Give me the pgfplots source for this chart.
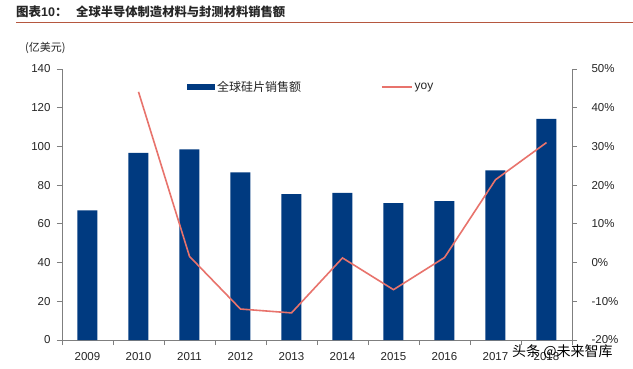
\documentclass[border=0pt]{standalone}
\usepackage{fontspec}
\setmainfont{Liberation Sans}
\newfontfamily\cjk{Noto Sans CJK SC}
\usepackage{pgfplots}
\pgfplotsset{compat=1.18}
\definecolor{barblue}{HTML}{003A80}
\definecolor{yoyred}{HTML}{E8736C}
\definecolor{axgrey}{HTML}{7F7F7F}
\definecolor{txt}{HTML}{262626}
\definecolor{titleline}{HTML}{B5573F}
\begin{document}
\begin{tikzpicture}[x=1pt,y=1pt]
\useasboundingbox[fill=white] (0,0) rectangle (633,368);
% title
\node[anchor=west,inner sep=0pt,text=txt] at (16,356) {\fontsize{12.5}{14}\selectfont{\cjk\bfseries 图表}{\bfseries 10}{\cjk\bfseries ：}};
\node[anchor=west,inner sep=0pt,text=txt] at (76,356) {\fontsize{12.3}{14}\selectfont\cjk\bfseries 全球半导体制造材料与封测材料销售额};
\draw[titleline,line width=1pt] (16,346) -- (633,346);
\node[anchor=west,inner sep=0pt,text=txt] at (25,320) {\fontsize{11}{13}\selectfont\cjk (亿美元)};
\begin{axis}[
  at={(62pt,28pt)}, anchor=south west,
  scale only axis, width=510pt, height=271pt,
  xmin=-0.5, xmax=9.5, ymin=0, ymax=140,
  axis x line*=bottom, axis y line*=left,
  axis line style={axgrey, line width=0.8pt},
  /pgf/number format/assume math mode=true,
  xtick={0,...,9},
  xticklabels={2009,2010,2011,2012,2013,2014,2015,2016,2017,2018},
  minor xtick={-0.5,0.5,...,9.5},
  ytick={0,20,...,140},
  tick align=outside,
  major tick length=5pt, minor tick length=5pt,
  x tick style={draw=none},
  minor x tick style={draw=axgrey, line width=0.8pt},
  y tick style={axgrey, line width=0.8pt},
  tick label style={font=\fontsize{11.5}{13}\selectfont, text=txt},
  yticklabel style={xshift=-3pt},
  xticklabel style={yshift=-4pt},
  legend style={draw=none, fill=none, at={(0.245,0.934)}, anchor=west,
    font=\fontsize{12}{14}\selectfont, text=txt, inner sep=0pt},
  legend columns=2,
  legend cell align=left,
  /tikz/every even column/.append style={column sep=78pt},
]
\addplot[ybar, bar width=20pt, fill=barblue, draw=none,
  legend image code/.code={\fill[barblue] (0pt,-3pt) rectangle (28pt,3pt);}]
  coordinates {(0,67.0) (1,96.7) (2,98.5) (3,86.6) (4,75.4) (5,76.0) (6,70.7) (7,71.7) (8,87.6) (9,114.2)};
\addlegendentry{\cjk 全球硅片销售额}
\addlegendimage{yoyred, line width=1.6pt, legend image code/.code={\draw[yoyred, line width=1.6pt] (0pt,0pt) -- (30pt,0pt);}}
\addlegendentry{yoy}
\end{axis}
\begin{axis}[
  at={(62pt,28pt)}, anchor=south west,
  scale only axis, width=510pt, height=271pt,
  xmin=-0.5, xmax=9.5, ymin=-20, ymax=50,
  axis x line=none, axis y line*=right,
  axis line style={axgrey, line width=0.8pt},
  /pgf/number format/assume math mode=true,
  ytick={-20,-10,...,50},
  yticklabel={\pgfmathprintnumber{\tick}\%},
  tick align=outside, major tick length=5pt,
  y tick style={axgrey, line width=0.8pt},
  tick label style={font=\fontsize{11.5}{13}\selectfont, text=txt},
  yticklabel style={xshift=11pt, anchor=west},
]
\addplot[yoyred, line width=1.6pt, mark=none]
  coordinates {(1,44.1) (2,1.6) (3,-12.0) (4,-13.0) (5,1.2) (6,-7.0) (7,1.3) (8,21.4) (9,31.0)};
\end{axis}
\node[anchor=west,inner sep=0pt,text=black] at (512,16) {\fontsize{14}{16}\selectfont\cjk 头条 @未来智库};
\end{tikzpicture}
\end{document}
